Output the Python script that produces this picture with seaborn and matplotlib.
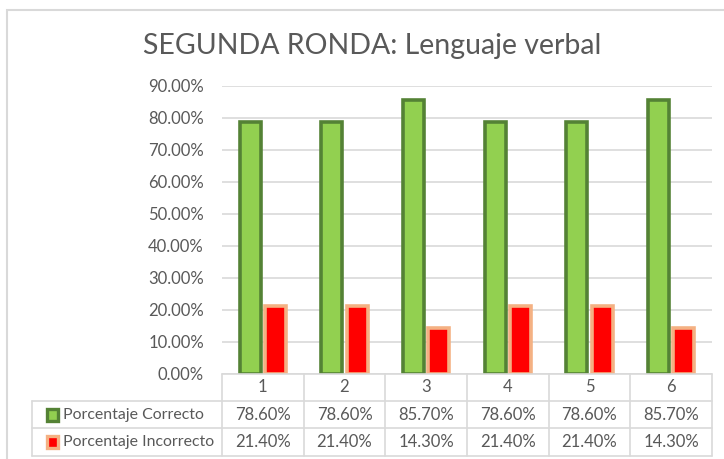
import matplotlib
matplotlib.use("Agg")
import matplotlib.pyplot as plt
import seaborn as sns
import pandas as pd
from matplotlib.lines import Line2D
from matplotlib.patches import Rectangle
from matplotlib.ticker import FuncFormatter

categorias = ["1", "2", "3", "4", "5", "6"]
correcto = [0.786, 0.786, 0.857, 0.786, 0.786, 0.857]
incorrecto = [0.214, 0.214, 0.143, 0.214, 0.214, 0.143]
series = ["Porcentaje Correcto", "Porcentaje Incorrecto"]

df = pd.DataFrame({
    "cat": categorias * 2,
    "valor": correcto + incorrecto,
    "serie": [series[0]] * 6 + [series[1]] * 6,
})

sns.set_style("white")
plt.rcParams["font.family"] = ["Lato", "DejaVu Sans"]

gris = "#595959"
fills = ["#92D050", "#FF0000"]
bordes = ["#548235", "#F4B183"]
fs = 12

W, H = 724, 459
fig = plt.figure(figsize=(W / 100, H / 100), dpi=100)

# area del grafico (en pixeles)
x0, x1 = 222, 712
y_top, y_bot = 86, 374
ax = fig.add_axes([x0 / W, 1 - y_bot / H, (x1 - x0) / W, (y_bot - y_top) / H])

sns.barplot(data=df, x="cat", y="valor", hue="serie", order=categorias,
            palette=fills, width=0.62, gap=0.16, ax=ax, legend=False,
            linewidth=2.6, saturation=1)
for cont, ec in zip(ax.containers, bordes):
    for p in cont:
        p.set_edgecolor(ec)
        p.set_zorder(3)

ax.set_ylim(0, 0.9)
ax.set_xlim(-0.5, 5.5)
ax.set_yticks([i / 10 for i in range(10)])
ax.yaxis.set_major_formatter(FuncFormatter(lambda v, _: f"{v * 100:.2f}%"))
ax.grid(axis="y", color="#D9D9D9", linewidth=1.2, zorder=0)
ax.set_axisbelow(True)
ax.set_xticks([])
ax.set_xlabel("")
ax.set_ylabel("")
ax.tick_params(axis="y", length=0, pad=13, labelsize=fs, labelcolor=gris)
for s in ax.spines.values():
    s.set_visible(False)

fig.text(372 / W, 1 - 46 / H, "SEGUNDA RONDA: Lenguaje verbal",
         ha="center", va="center", fontsize=20.5, color=gris)

# marco del grafico
fig.add_artist(Rectangle((7 / W, -0.1), 1.0, 1 - 10 / H + 0.1, transform=fig.transFigure,
                         fill=False, edgecolor="#D9D9D9", linewidth=1.5))

# tabla de datos
lc = "#D9D9D9"
def px(x, y):
    return x / W, 1 - y / H

filas = [374, 401, 428, 456]
col_w = (x1 - x0) / len(categorias)
lbl_x0 = 32

def linea(xa, ya, xb, yb):
    (a, b), (c, d) = px(xa, ya), px(xb, yb)
    fig.add_artist(Line2D([a, c], [b, d], transform=fig.transFigure, color=lc, linewidth=1.2))

linea(x0, filas[0], x1, filas[0])
for y in filas[1:]:
    linea(lbl_x0, y, x1, y)
for i in range(len(categorias) + 1):
    linea(x0 + i * col_w, filas[0], x0 + i * col_w, filas[-1])
linea(lbl_x0, filas[1], lbl_x0, filas[-1])

for i, c in enumerate(categorias):
    fig.text(*px(x0 + (i + 0.5) * col_w, (filas[0] + filas[1]) / 2), c,
             ha="center", va="center", fontsize=fs, color=gris)

for r, (nombre, vals) in enumerate(zip(series, [correcto, incorrecto])):
    yc = (filas[r + 1] + filas[r + 2]) / 2
    kx, ky = px(47, yc + 6)
    fig.add_artist(Rectangle((kx, ky), 11 / W, 12 / H, transform=fig.transFigure,
                             facecolor=fills[r], edgecolor=bordes[r], linewidth=2.4))
    fig.text(*px(63, yc), nombre, ha="left", va="center", fontsize=11.4, color=gris)
    for i, v in enumerate(vals):
        fig.text(*px(x0 + (i + 0.5) * col_w, yc), f"{v * 100:.2f}%",
                 ha="center", va="center", fontsize=fs, color=gris)

fig.savefig("out.png", dpi=100)
